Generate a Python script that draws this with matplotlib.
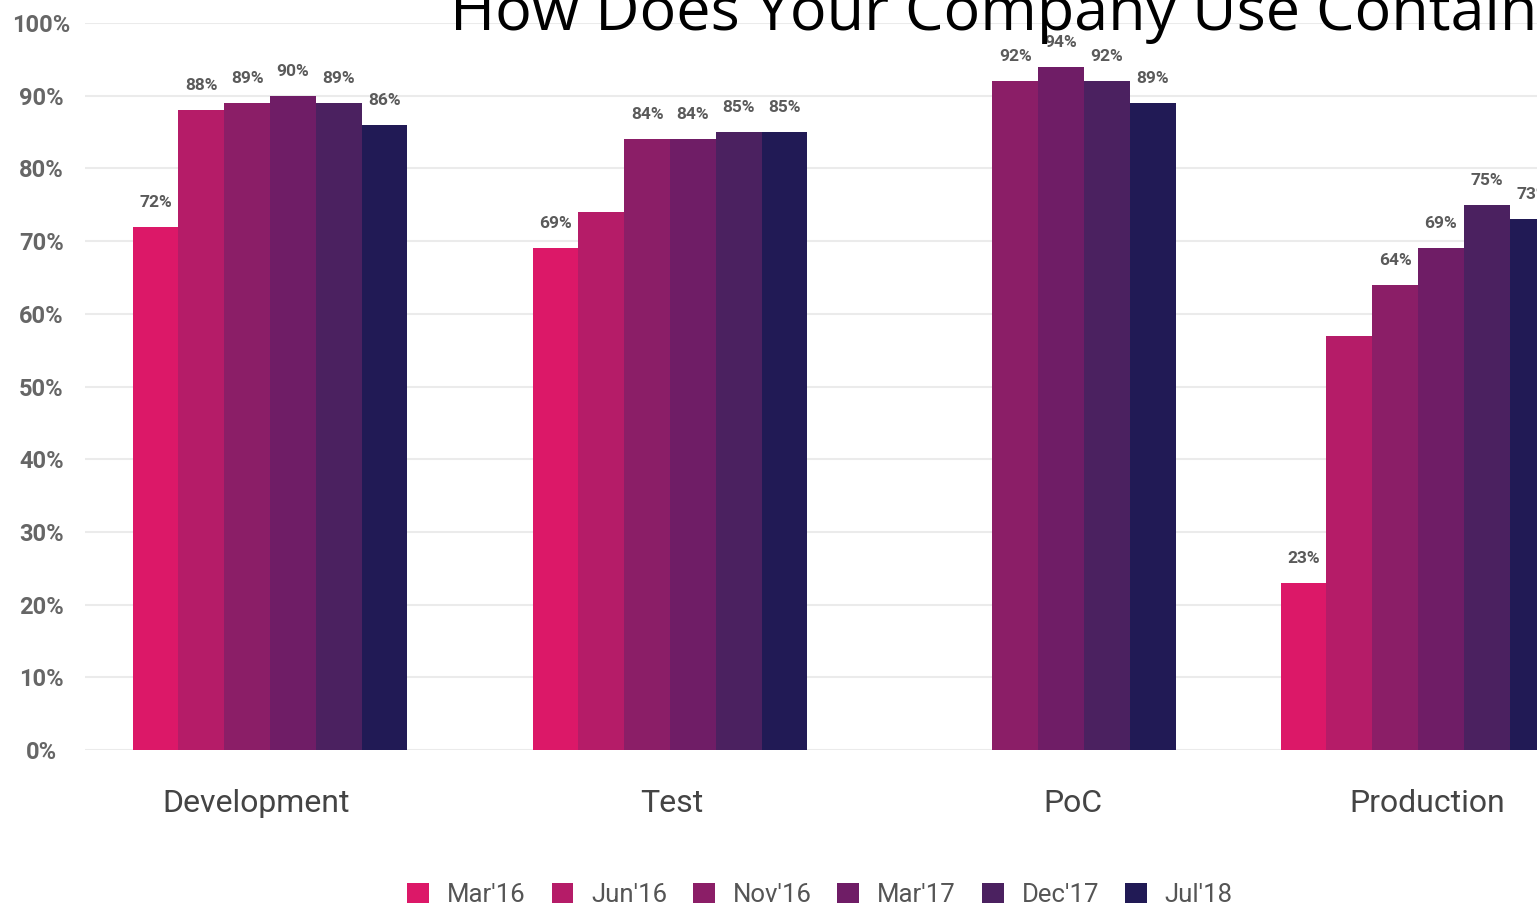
import matplotlib
matplotlib.use("Agg")
import matplotlib.pyplot as plt
from matplotlib.patches import Patch

# --- data ---
categories = ["Development", "Test", "PoC", "Production"]
series_names = ["Mar'16", "Jun'16", "Nov'16", "Mar'17", "Dec'17", "Jul'18"]
mar16 = [72, 69, None, 23]
jun16 = [88, 74, None, 57]
nov16 = [89, 84, 92, 64]
mar17 = [90, 84, 94, 69]
dec17 = [89, 85, 92, 75]
jul18 = [86, 85, 89, 73]
values = [mar16, jun16, nov16, mar17, dec17, jul18]
# bars that carry no value label in the reference: (series, category)
unlabeled = [("Jun'16", "Test"), ("Jun'16", "Production")]
yticks = [0, 10, 20, 30, 40, 50, 60, 70, 80, 90, 100]

colors = ["#dc1868", "#b51c68", "#8b1e67", "#6f1d66", "#4b2160", "#211a55"]

# layout, in pixel units of the 1537 px wide figure
W, H = 1537, 909
group_centers = [270, 670, 1084, 1418]
label_centers = [256, 672, 1073, 1427]
bar_w = 45.8

fig = plt.figure(figsize=(W / 100, H / 100), dpi=100)
ax = fig.add_axes([85 / W, (H - 750) / H, (W - 85) / W, 727 / H])
ax.set_xlim(85, W)
ax.set_ylim(0, 100)

for gi, cat in enumerate(categories):
    present = [si for si in range(len(series_names)) if values[si][gi] is not None]
    n = len(present)
    for k, si in enumerate(present):
        v = values[si][gi]
        x = group_centers[gi] + (k - (n - 1) / 2) * bar_w
        ax.bar(x, v, width=bar_w, color=colors[si], linewidth=0, zorder=3)
        if (series_names[si], cat) in unlabeled:
            continue
        ax.annotate(f"{v}%", (x, v), xytext=(0, 17), textcoords="offset pixels",
                    ha="center", va="bottom", fontsize=12.5, color="#5a5a5a",
                    family="Roboto", fontweight="bold", zorder=4)

ax.set_yticks(yticks)
ax.set_yticklabels([f"{t}%" for t in yticks], family="Roboto", fontsize=17,
                   color="#666666", fontweight="bold", ha="center")
ax.tick_params(axis="y", length=0, pad=31.5)
ax.grid(axis="y", color="#ebebeb", linewidth=1.5, zorder=0)
ax.set_xticks(label_centers)
ax.set_xticklabels(categories, family="Roboto", fontsize=23, color="#444444")
ax.tick_params(axis="x", length=0, pad=28)
for s in ax.spines.values():
    s.set_visible(False)

handles = [Patch(facecolor=c, edgecolor="none") for c in colors]
leg = fig.legend(handles, series_names, loc="center", ncol=6,
                 bbox_to_anchor=(820 / W, 1 - 895 / H), frameon=False,
                 prop={"family": "Roboto", "size": 18.5}, handlelength=0.85,
                 handleheight=0.85, handletextpad=0.7, columnspacing=1.0)
for t in leg.get_texts():
    t.set_color("#555555")

fig.text(450 / W, 1 - 30 / H, "How Does Your Company Use Containers?",
         family="Open Sans", fontsize=44, color="black", va="baseline")

fig.savefig("out.png", dpi=100)
